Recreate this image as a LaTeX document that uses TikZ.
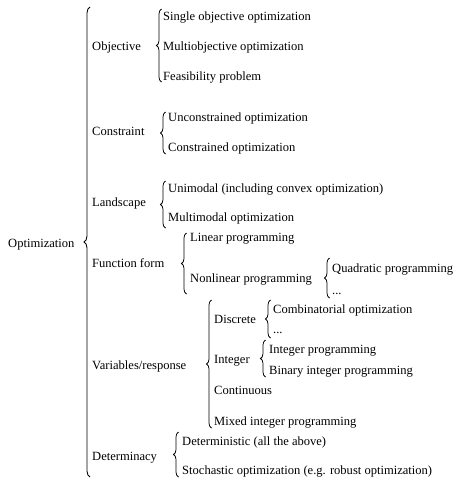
\documentclass[tikz,border=0pt]{standalone}
\usepackage{fontspec}
\setmainfont{Liberation Serif}
\usetikzlibrary{decorations.pathreplacing}
\begin{document}
\begin{tikzpicture}[x=1pt,y=-1pt,
  lbl/.style={anchor=base west,inner sep=0pt,font=\fontsize{12.55}{15}\selectfont},
  brc/.style={decorate,decoration={brace,amplitude=5pt},line width=0.75pt},
  bigbrc/.style={decorate,decoration={brace,amplitude=6pt},line width=0.85pt}]
\useasboundingbox (0,0) rectangle (455,479);
% root
\node[lbl] (root) at (8,247) {Optimization};
% first level
\node[lbl] (obj) at (92,50) {Objective};
\node[lbl] (con) at (92,135) {Constraint};
\node[lbl] (lan) at (92,206) {Landscape};
\node[lbl] (fun) at (92,267) {Function form};
\node[lbl] (var) at (92,369) {Variables/response};
\node[lbl] (det) at (92,460) {Determinacy};
% objective
\node[lbl] (obj1) at (163,20) {Single objective optimization};
\node[lbl] (obj2) at (163,50) {Multiobjective optimization};
\node[lbl] (obj3) at (163,80) {Feasibility problem};
% constraint
\node[lbl] (con1) at (168,121) {Unconstrained optimization};
\node[lbl] (con2) at (168,151) {Constrained optimization};
% landscape
\node[lbl] (lan1) at (168,192) {Unimodal (including convex optimization)};
\node[lbl] (lan2) at (168,221) {Multimodal optimization};
% function form
\node[lbl] (fun1) at (190,241) {Linear programming};
\node[lbl] (fun2) at (190,282) {Nonlinear programming};
\node[lbl] (nl1) at (332,272) {Quadratic programming};
\node[lbl] (nl2) at (332,294) {...};
% variables/response
\node[lbl] (var1) at (214,323) {Discrete};
\node[lbl] (var2) at (214,363) {Integer};
\node[lbl] (var3) at (214,394) {Continuous};
\node[lbl] (var4) at (214,425) {Mixed integer programming};
\node[lbl] (dis1) at (273,313) {Combinatorial optimization};
\node[lbl] (dis2) at (273,333) {...};
\node[lbl] (int1) at (269,353) {Integer programming};
\node[lbl] (int2) at (269,374) {Binary integer programming};
% determinacy
\node[lbl] (det1) at (182,445) {Deterministic (all the above)};
\node[lbl] (det2) at (182,474) {Stochastic optimization (e.g. robust optimization)};
% brace end points
\coordinate (rootT) at (90,7);    \coordinate (rootB) at (90,477);
\coordinate (objT) at (161.5,9);  \coordinate (objB) at (161.5,82);
\coordinate (conT) at (165.5,112);\coordinate (conB) at (165.5,154);
\coordinate (lanT) at (165.5,181);\coordinate (lanB) at (165.5,228);
\coordinate (funT) at (186.5,233);\coordinate (funB) at (186.5,294);
\coordinate (nlT) at (329.5,258); \coordinate (nlB) at (329.5,298);
\coordinate (varT) at (211.5,300);\coordinate (varB) at (211.5,428);
\coordinate (disT) at (270.5,300);\coordinate (disB) at (270.5,338);
\coordinate (intT) at (265.5,340);\coordinate (intB) at (265.5,377);
\coordinate (detT) at (178.5,432);\coordinate (detB) at (178.5,477);
% braces
\draw[bigbrc] (rootB) -- (rootT);
\draw[brc] (objB) -- (objT);
\draw[brc] (conB) -- (conT);
\draw[brc] (lanB) -- (lanT);
\draw[brc] (funB) -- (funT);
\draw[brc] (nlB) -- (nlT);
\draw[brc] (varB) -- (varT);
\draw[brc] (disB) -- (disT);
\draw[brc] (intB) -- (intT);
\draw[brc] (detB) -- (detT);
\end{tikzpicture}
\end{document}
